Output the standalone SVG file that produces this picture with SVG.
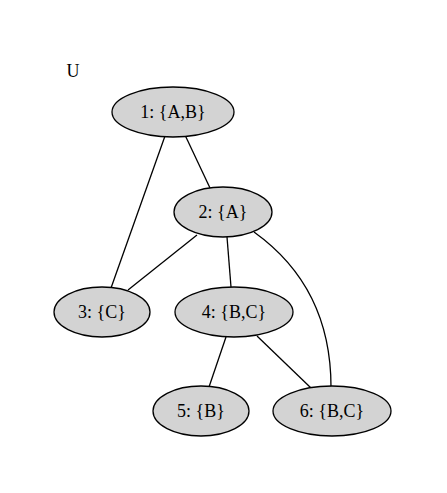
<svg xmlns="http://www.w3.org/2000/svg" width="447" height="493" viewBox="0 0 447 493">
<style>
.n ellipse{fill:#d3d3d3;stroke:#000;stroke-width:1.3}
text{font-family:"Liberation Serif","Times New Roman",serif;font-size:18px;fill:#000;text-anchor:middle}
.e path{fill:none;stroke:#000;stroke-width:1.3}
</style>
<rect width="447" height="493" fill="#fff"/>
<text x="73" y="77">U</text>
<g class="e" id="edges">
<path d="M165,136 L111,288"/>
<path d="M185,135 L210,188"/>
<path d="M197,235 L128,290"/>
<path d="M227,237 L231,287"/>
<path d="M254,232 C300,265 331,315 331,387"/>
<path d="M226,337 L209,387"/>
<path d="M257,336 L311,388"/>
</g>
<g class="n" id="n1"><ellipse cx="173" cy="112" rx="61" ry="25"/><text x="173" y="118">1: {A,B}</text></g>
<g class="n" id="n2"><ellipse cx="223" cy="212" rx="49" ry="25"/><text x="223" y="218">2: {A}</text></g>
<g class="n" id="n3"><ellipse cx="102" cy="312" rx="48" ry="25"/><text x="102" y="318">3: {C}</text></g>
<g class="n" id="n4"><ellipse cx="234" cy="312" rx="59" ry="25"/><text x="234" y="318">4: {B,C}</text></g>
<g class="n" id="n5"><ellipse cx="201" cy="411" rx="48" ry="25"/><text x="201" y="417">5: {B}</text></g>
<g class="n" id="n6"><ellipse cx="332" cy="411" rx="59" ry="25"/><text x="332" y="417">6: {B,C}</text></g>
</svg>
